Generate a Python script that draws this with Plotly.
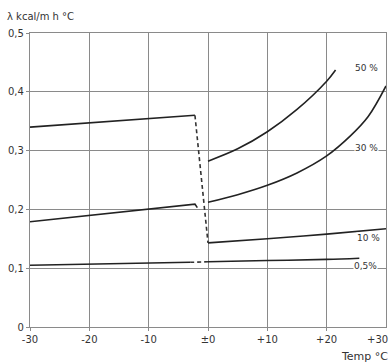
import plotly.graph_objects as go

# ---- data ----
x_ticks = [-30, -20, -10, 0, 10, 20, 30]
x_tick_labels = ["-30", "-20", "-10", "±0", "+10", "+20", "+30"]
y_ticks = [0, 0.1, 0.2, 0.3, 0.4, 0.5]
y_tick_labels = ["0", "0,1", "0,2", "0,3", "0,4", "0,5"]

# frozen (below 0 °C) segments
m50_frozen_x = [-30, -2.2]
m50_frozen_y = [0.340, 0.360]
m30_frozen_x = [-30, -2.2, -1.8]
m30_frozen_y = [0.179, 0.209, 0.203]
m05_frozen_x = [-30, -10, -3]
m05_frozen_y = [0.105, 0.109, 0.110]

# thawed (above 0 °C) segments
m50_x = [0, 5, 10, 15, 20, 21.5]
m50_y = [0.282, 0.303, 0.332, 0.370, 0.418, 0.437]
m30_x = [0, 5, 10, 15, 20, 24, 27, 30]
m30_y = [0.212, 0.225, 0.241, 0.262, 0.291, 0.325, 0.358, 0.410]
m10_x = [0, 10, 20, 30]
m10_y = [0.143, 0.150, 0.158, 0.167]
m05_x = [0, 10, 20, 25.5]
m05_y = [0.111, 0.113, 0.115, 0.117]

# transition (dashed) lines at freezing point
trans_x = [-2.2, 0]
trans_y = [0.360, 0.143]
trans05_x = [-3, 0]
trans05_y = [0.110, 0.111]

labels = ["50 %", "30 %", "10 %", "0,5%"]
label_x = [24.6, 24.6, 25.0, 24.4]
label_y = [0.440, 0.304, 0.152, 0.103]

fig = go.Figure()
line = dict(color="#222222", width=1.6)

for xs, ys in [(m50_frozen_x, m50_frozen_y), (m30_frozen_x, m30_frozen_y),
               (m05_frozen_x, m05_frozen_y)]:
    fig.add_trace(go.Scatter(x=xs, y=ys, mode="lines", line=line, hoverinfo="skip"))
for xs, ys in [(m50_x, m50_y), (m30_x, m30_y), (m10_x, m10_y), (m05_x, m05_y)]:
    fig.add_trace(go.Scatter(x=xs, y=ys, mode="lines",
                             line=dict(color="#222222", width=1.6, shape="spline",
                                       smoothing=1.0),
                             hoverinfo="skip"))
for xs, ys in [(trans_x, trans_y), (trans05_x, trans05_y)]:
    fig.add_trace(go.Scatter(x=xs, y=ys, mode="lines",
                             line=dict(color="#333333", width=1.6, dash="4px,3px"),
                             hoverinfo="skip"))

for t, lx, ly in zip(labels, label_x, label_y):
    fig.add_annotation(x=lx, y=ly, text=t, showarrow=False, xanchor="left",
                       yanchor="middle", bgcolor="white", borderpad=0,
                       font=dict(size=9, color="#333333"))

fig.add_annotation(xref="paper", yref="paper", x=-0.07, y=1.0, yshift=17,
                   text="λ kcal/m h °C", showarrow=False, xanchor="left",
                   yanchor="middle", font=dict(size=10, color="#333333"))
fig.add_annotation(xref="paper", yref="paper", x=1.0, y=0, yshift=-29, xshift=4,
                   text="Temp °C", showarrow=False, xanchor="right",
                   yanchor="middle", font=dict(size=11, color="#333333"))
# last x tick label (would be dropped by plotly as it overhangs the edge)
fig.add_annotation(x=x_ticks[-1], xref="x", yref="paper", y=0, yshift=-12,
                   xshift=4, text=x_tick_labels[-1], showarrow=False,
                   xanchor="right", yanchor="middle",
                   font=dict(size=10, color="#333333"))

axis_common = dict(showgrid=True, gridcolor="#8a8a8a", gridwidth=1.4,
                   showline=True, linecolor="#8a8a8a", linewidth=1.4, mirror=True,
                   zeroline=False, ticks="outside", ticklen=3, tickcolor="#8a8a8a",
                   automargin=False,
                   tickfont=dict(size=10, color="#333333"))

fig.update_layout(
    width=391, height=362,
    margin=dict(l=30, r=5, t=33, b=35),
    paper_bgcolor="white", plot_bgcolor="white",
    showlegend=False,
    font=dict(family="DejaVu Sans", color="#333333"),
    xaxis=dict(range=[-30, 30], tickvals=x_ticks[:-1], ticktext=x_tick_labels[:-1],
               **axis_common),
    yaxis=dict(range=[0, 0.5], tickvals=y_ticks, ticktext=y_tick_labels, **axis_common),
)

fig.write_html("out.html", config={"displayModeBar": False},
               post_script="document.body.style.margin='0';document.body.style.overflow='hidden';")
